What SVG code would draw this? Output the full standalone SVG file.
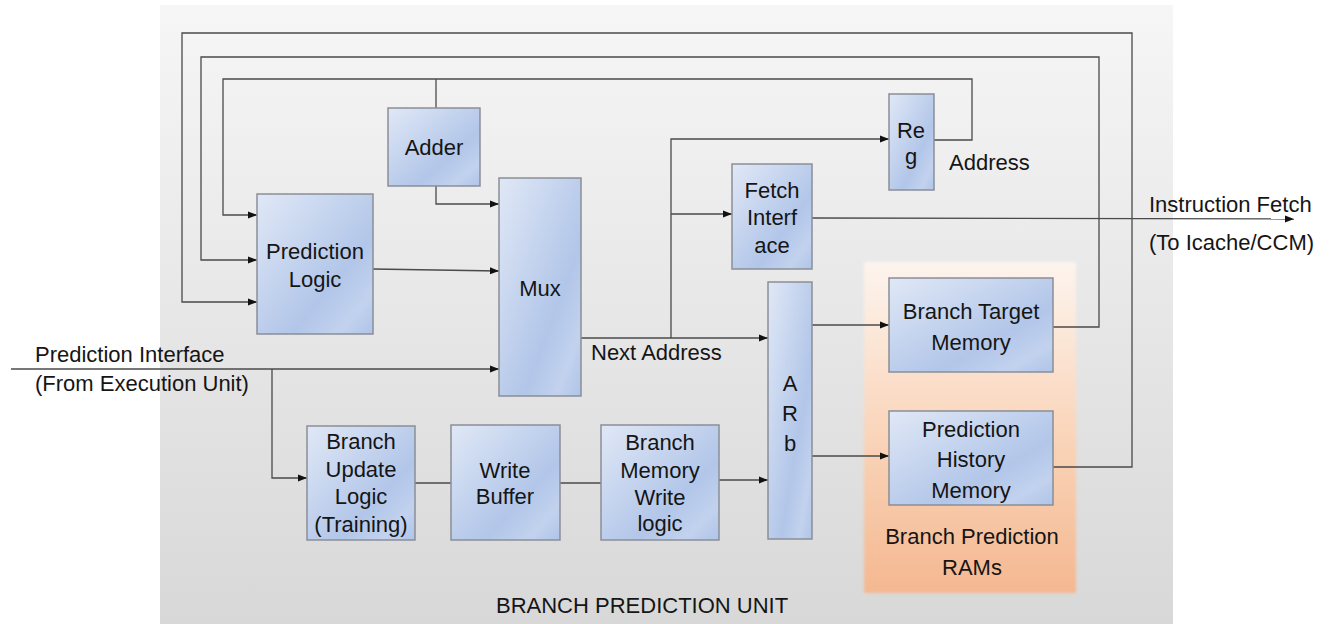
<svg xmlns="http://www.w3.org/2000/svg" width="1340" height="624" viewBox="0 0 1340 624">
  <defs>
    <linearGradient id="panelFill" x1="0" y1="0" x2="0" y2="1">
      <stop offset="0" stop-color="#f6f6f6"/>
      <stop offset="1" stop-color="#d8d8d8"/>
    </linearGradient>
    <linearGradient id="blockFill" x1="0" y1="0" x2="1" y2="1">
      <stop offset="0" stop-color="#e0e8f6"/>
      <stop offset="0.65" stop-color="#b2c6e9"/>
      <stop offset="0.85" stop-color="#c2d2ee"/>
      <stop offset="1" stop-color="#b0c4e8"/>
    </linearGradient>
    <linearGradient id="ramFill" x1="0" y1="0" x2="0" y2="1">
      <stop offset="0" stop-color="#fdf4ee"/>
      <stop offset="0.55" stop-color="#f9d3b7"/>
      <stop offset="1" stop-color="#f4b890"/>
    </linearGradient>
    <filter id="soft" x="-5%" y="-5%" width="110%" height="110%">
      <feGaussianBlur stdDeviation="1.5"/>
    </filter>
    <marker id="arrow" markerWidth="9" markerHeight="8" refX="9" refY="4" orient="auto" markerUnits="userSpaceOnUse">
      <path d="M0,0.5 L9,4 L0,7.5 z" fill="#111"/>
    </marker>
    <style>
      .block { fill: url(#blockFill); stroke: #8a8e96; stroke-width: 1.5; }
      .wire { fill: none; stroke: #4a4a4a; stroke-width: 1.3; }
      .lbl { font-family: "Liberation Sans", Arial, sans-serif; font-size: 22px; fill: #151515; }
      .mid { text-anchor: middle; }
    </style>
  </defs>

  <!-- unit background -->
  <rect id="unit-panel" x="160" y="5" width="1013" height="619" fill="url(#panelFill)"/>

  <!-- RAM region -->
  <g id="ram-region">
    <rect x="864" y="262" width="212" height="331" fill="url(#ramFill)" filter="url(#soft)"/>
    <text class="lbl mid" x="972" y="544">Branch Prediction</text>
    <text class="lbl mid" x="972" y="575">RAMs</text>
  </g>

  <!-- connectors -->
  <g id="connectors">
    <!-- outer feedback: prediction history memory -> prediction logic -->
    <polyline class="wire" points="1053,467 1132,467 1132,33 182,33 182,302 257,302" marker-end="url(#arrow)"/>
    <!-- branch target memory -> prediction logic -->
    <polyline class="wire" points="1053,327 1099,327 1099,57 201,57 201,260 257,260" marker-end="url(#arrow)"/>
    <!-- reg -> prediction logic -->
    <polyline class="wire" points="934,140 972,140 972,79 223,79 223,215 257,215" marker-end="url(#arrow)"/>
    <!-- reg loop tap into adder -->
    <line class="wire" x1="436" y1="79" x2="436" y2="108"/>
    <!-- adder -> mux -->
    <polyline class="wire" points="436,186 436,204 499,204" marker-end="url(#arrow)"/>
    <!-- prediction logic -> mux -->
    <line class="wire" x1="373" y1="269" x2="499" y2="271" marker-end="url(#arrow)"/>
    <!-- prediction interface -> mux -->
    <line class="wire" x1="11" y1="369" x2="499" y2="369" marker-end="url(#arrow)"/>
    <!-- prediction interface -> branch update logic -->
    <polyline class="wire" points="272,369 272,478 307,478" marker-end="url(#arrow)"/>
    <!-- next address -> arb -->
    <line class="wire" x1="581" y1="338" x2="768" y2="338" marker-end="url(#arrow)"/>
    <!-- next address -> reg -->
    <polyline class="wire" points="671,338 671,139 889,139" marker-end="url(#arrow)"/>
    <!-- next address -> fetch interface -->
    <line class="wire" x1="671" y1="214" x2="732" y2="214" marker-end="url(#arrow)"/>
    <!-- fetch interface -> instruction fetch -->
    <line class="wire" x1="812" y1="218" x2="1294" y2="219" marker-end="url(#arrow)"/>
    <!-- update path -->
    <line class="wire" x1="415" y1="483" x2="451" y2="483"/>
    <line class="wire" x1="560" y1="483" x2="601" y2="483"/>
    <line class="wire" x1="719" y1="480" x2="768" y2="480" marker-end="url(#arrow)"/>
    <!-- arb -> memories -->
    <line class="wire" x1="812" y1="325" x2="889" y2="325" marker-end="url(#arrow)"/>
    <line class="wire" x1="812" y1="456" x2="889" y2="456" marker-end="url(#arrow)"/>
  </g>

  <g id="adder">
    <rect class="block" x="388" y="108" width="92" height="78"/>
    <text class="lbl mid" x="434" y="155">Adder</text>
  </g>

  <g id="prediction-logic">
    <rect class="block" x="257" y="194" width="116" height="140"/>
    <text class="lbl mid" x="315" y="259">Prediction</text>
    <text class="lbl mid" x="315" y="287">Logic</text>
  </g>

  <g id="mux">
    <rect class="block" x="499" y="178" width="82" height="218"/>
    <text class="lbl mid" x="540" y="296">Mux</text>
  </g>

  <g id="fetch-interface">
    <rect class="block" x="732" y="164" width="80" height="105"/>
    <text class="lbl mid" x="772" y="198">Fetch</text>
    <text class="lbl mid" x="772" y="225">Interf</text>
    <text class="lbl mid" x="772" y="253">ace</text>
  </g>

  <g id="reg">
    <rect class="block" x="889" y="94" width="45" height="96"/>
    <text class="lbl mid" x="911" y="138">Re</text>
    <text class="lbl mid" x="911" y="164">g</text>
  </g>

  <g id="arb">
    <rect class="block" x="768" y="282" width="44" height="257"/>
    <text class="lbl mid" x="790" y="391">A</text>
    <text class="lbl mid" x="790" y="421">R</text>
    <text class="lbl mid" x="790" y="451">b</text>
  </g>

  <g id="branch-update-logic">
    <rect class="block" x="307" y="426" width="108" height="114"/>
    <text class="lbl mid" x="361" y="449">Branch</text>
    <text class="lbl mid" x="361" y="477">Update</text>
    <text class="lbl mid" x="361" y="504">Logic</text>
    <text class="lbl mid" x="361" y="532">(Training)</text>
  </g>

  <g id="write-buffer">
    <rect class="block" x="451" y="425" width="109" height="115"/>
    <text class="lbl mid" x="505" y="478">Write</text>
    <text class="lbl mid" x="505" y="504">Buffer</text>
  </g>

  <g id="branch-memory-write-logic">
    <rect class="block" x="601" y="425" width="118" height="115"/>
    <text class="lbl mid" x="660" y="450">Branch</text>
    <text class="lbl mid" x="660" y="478">Memory</text>
    <text class="lbl mid" x="660" y="505">Write</text>
    <text class="lbl mid" x="660" y="531">logic</text>
  </g>

  <g id="branch-target-memory">
    <rect class="block" x="889" y="278" width="164" height="94"/>
    <text class="lbl mid" x="971" y="319">Branch Target</text>
    <text class="lbl mid" x="971" y="350">Memory</text>
  </g>

  <g id="prediction-history-memory">
    <rect class="block" x="889" y="411" width="164" height="94"/>
    <text class="lbl mid" x="971" y="437">Prediction</text>
    <text class="lbl mid" x="971" y="467">History</text>
    <text class="lbl mid" x="971" y="498">Memory</text>
  </g>

  <!-- free labels -->
  <g id="labels">
    <text class="lbl" x="949" y="170">Address</text>
    <text class="lbl" x="591" y="360">Next Address</text>
    <text class="lbl" x="35" y="362">Prediction Interface</text>
    <text class="lbl" x="35" y="391">(From Execution Unit)</text>
    <text class="lbl" x="1149" y="212">Instruction Fetch</text>
    <text class="lbl" x="1149" y="250">(To Icache/CCM)</text>
    <text class="lbl" x="496" y="613" font-size="22.5">BRANCH PREDICTION UNIT</text>
  </g>
</svg>
